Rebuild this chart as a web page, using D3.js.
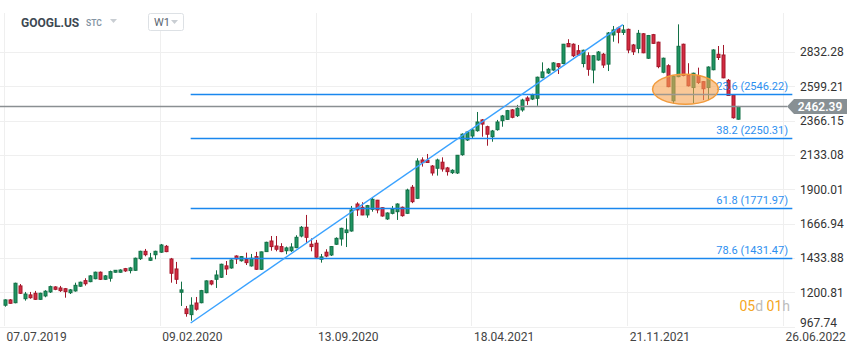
<!DOCTYPE html>
<html>
<head>
<meta charset="utf-8">
<script src="https://cdn.jsdelivr.net/npm/d3@7"></script>
<style>
  body { margin: 0; background: #fff; font-family: Roboto, "Noto Sans", sans-serif; }
  svg { display: block; }
</style>
</head>
<body>
<svg></svg>
<script>
// weekly candles, GOOGL.US (W1)
const firstWeek = new Date(2019, 6, 8);

const open = [1113,1149,1130,1244,1157,1183,1194,1153,1176,1203,
  1237,1230,1225,1198,1210,1242,1280,1273,1293,1337,
  1289,1296,1337,1337,1361,1348,1350,1429,1479,1418,
  1456,1473,1513,1427,1359,1201,1088,1049,1128,1130,
  1198,1278,1289,1303,1380,1366,1447,1415,1425,1380,
  1443,1357,1477,1549,1515,1511,1483,1483,1504,1583,
  1642,1527,1534,1425,1473,1454,1527,1563,1606,1617,
  1800,1778,1726,1764,1826,1775,1699,1737,1748,1778,
  1737,1914,1839,2099,2097,2058,2043,2084,2045,2013,
  2011,2135,2235,2262,2298,2371,2325,2257,2305,2366,
  2375,2439,2400,2439,2520,2513,2518,2658,2690,2710,
  2753,2754,2890,2885,2841,2754,2807,2710,2778,2817,
  2750,2948,2995,2965,2986,2880,2857,2956,2790,2950,
  2899,2695,2739,2501,2665,2885,2673,2591,2671,2631,
  2591,2712,2817,2812,2640,2540,2376];

const high = [1153,1155,1266,1257,1203,1203,1210,1198,1215,1246,
  1242,1244,1230,1223,1266,1273,1296,1318,1341,1342,
  1318,1348,1352,1357,1366,1373,1436,1483,1495,1468,
  1483,1529,1522,1434,1407,1273,1108,1167,1169,1217,
  1282,1284,1350,1395,1413,1425,1452,1447,1470,1461,
  1475,1477,1544,1583,1583,1534,1511,1534,1588,1651,
  1726,1567,1556,1461,1493,1515,1574,1639,1703,1787,
  1812,1812,1794,1843,1828,1778,1744,1787,1805,1783,
  1904,1929,2111,2117,2140,2065,2108,2117,2052,2036,
  2133,2280,2296,2312,2425,2377,2332,2303,2371,2405,
  2439,2445,2473,2515,2532,2549,2665,2762,2724,2764,
  2756,2887,2919,2891,2880,2848,2830,2812,2839,2826,
  2968,3009,3004,3016,2991,2887,2982,2961,2948,2955,
  2902,2794,2749,2674,3020,2889,2756,2692,2726,2635,
  2735,2851,2873,2880,2649,2545,2466];

const low = [1103,1124,1126,1189,1144,1157,1149,1149,1167,1196,
  1215,1203,1164,1189,1205,1237,1246,1269,1289,1284,
  1284,1273,1334,1334,1339,1329,1346,1420,1445,1413,
  1425,1468,1473,1266,1257,1108,1035,1008,1076,1126,
  1194,1248,1230,1298,1318,1361,1393,1409,1386,1375,
  1352,1352,1475,1483,1479,1473,1459,1475,1500,1574,
  1534,1479,1432,1402,1439,1447,1522,1517,1508,1612,
  1719,1724,1707,1748,1737,1714,1692,1730,1692,1714,
  1732,1806,1834,2054,2079,1993,1993,2020,1993,2004,
  2004,2128,2228,2248,2291,2257,2196,2223,2298,2325,
  2371,2382,2391,2427,2473,2506,2467,2654,2683,2705,
  2683,2749,2866,2798,2805,2728,2671,2620,2773,2724,
  2703,2902,2891,2948,2824,2812,2824,2824,2785,2887,
  2722,2688,2593,2484,2661,2667,2598,2484,2615,2506,
  2506,2708,2778,2654,2534,2380,2373];

const close = [1149,1126,1262,1194,1189,1164,1153,1194,1208,1239,
  1221,1212,1205,1217,1248,1269,1259,1312,1337,1289,
  1312,1341,1350,1352,1346,1366,1432,1479,1456,1434,
  1479,1522,1477,1330,1289,1217,1056,1113,1086,1212,
  1278,1257,1318,1391,1359,1420,1427,1443,1402,1432,
  1357,1475,1540,1511,1493,1477,1502,1508,1574,1642,
  1574,1511,1439,1441,1447,1511,1567,1635,1624,1760,
  1760,1726,1789,1832,1760,1719,1739,1764,1800,1721,
  1895,1816,2092,2081,2082,2011,2099,2038,2020,2029,
  2131,2274,2289,2303,2357,2343,2274,2296,2357,2398,
  2434,2389,2450,2506,2502,2540,2661,2697,2715,2758,
  2733,2885,2868,2807,2812,2844,2715,2807,2832,2744,
  2961,2982,2966,2982,2846,2834,2959,2827,2944,2891,
  2733,2790,2597,2667,2871,2673,2603,2688,2625,2583,
  2730,2846,2795,2657,2537,2386,2462.39];

const dateTicks = ["07.07.2019", "09.02.2020", "13.09.2020", "18.04.2021", "21.11.2021", "26.06.2022"];
const priceTicks = [967.74, 1200.81, 1433.88, 1666.94, 1900.01, 2133.08, 2366.15, 2599.21, 2832.28];

const fibLevels = ["23.6", "38.2", "61.8", "78.6"];
const fibValues = [2546.22, 2250.31, 1771.97, 1431.47];
const lastPrice = 2462.39;

// trend line: candle index -> price
const trendWeeks = [37, 123];
const trendValues = [992, 3018];
// highlighted zone (ellipse): week span and price span
const zoneWeeks = [128.9, 142];
const zoneValues = [2477, 2681];

const parseDay = d3.timeParse("%d.%m.%Y");
const weeks = open.map((d, i) => d3.timeWeek.offset(firstWeek, i));
const weekAt = w => new Date(+firstWeek + w * 7 * 864e5);

const svg = d3.select("svg").attr("width", 859).attr("height", 352);

const x = d3.scaleTime()
  .domain([parseDay(dateTicks[0]), parseDay(dateTicks[dateTicks.length - 1])])
  .range([4, 783]);
const y = d3.scaleLinear()
  .domain([priceTicks[0], priceTicks[priceTicks.length - 1]])
  .range([326.6, 52]);

//grid + right price axis
const yAxis = svg.append("g")
  .attr("transform", "translate(795,0)")
  .call(d3.axisRight(y).tickValues(priceTicks).tickSize(-795).tickPadding(5)
    .tickFormat(d => d.toFixed(2)));
yAxis.select(".domain").remove();
yAxis.selectAll("line").attr("stroke", "#efefef").attr("shape-rendering", "crispEdges");
yAxis.selectAll("text").attr("fill", "#333").style("font-size", "12px").style("font-family", "Roboto");
yAxis.selectAll(".tick").filter(d => d === priceTicks[0]).select("text").attr("dy", "-0.05em");

//grid + date axis
const xAxis = svg.append("g")
  .attr("transform", "translate(0,326)")
  .call(d3.axisBottom(x).tickValues(dateTicks.map(parseDay)).tickSize(-313).tickPadding(6)
    .tickFormat(d3.timeFormat("%d.%m.%Y")));
xAxis.select(".domain").remove();
xAxis.selectAll("line").attr("stroke", "#efefef").attr("shape-rendering", "crispEdges");
xAxis.selectAll("text").attr("fill", "#444").attr("text-anchor", "start").attr("x", 2)
  .style("font-size", "12px").style("font-family", "Roboto");

// candles
const candles = svg.append("g");
weeks.forEach((d, i) => {
  const up = close[i] >= open[i];
  const cx = Math.round(x(d)) + 0.5;
  const g = candles.append("g");
  g.append("line")
    .attr("x1", cx).attr("x2", cx)
    .attr("y1", y(high[i])).attr("y2", y(low[i]))
    .attr("stroke", up ? "#137046" : "#a3182b").attr("stroke-width", 1);
  const top = y(Math.max(open[i], close[i]));
  const bot = y(Math.min(open[i], close[i]));
  g.append("rect")
    .attr("x", cx - 1.5).attr("width", 3)
    .attr("y", top).attr("height", Math.max(1, bot - top))
    .attr("fill", up ? "#1f9462" : "#d32a40")
    .attr("stroke", up ? "#137046" : "#a3182b").attr("stroke-width", 1);
});

// fibonacci levels
const fibStart = weekAt(trendWeeks[0]);
const fibEnd = new Date(2022, 6, 9);
fibValues.forEach((v, i) => {
  svg.append("line")
    .attr("x1", x(fibStart)).attr("x2", x(fibEnd))
    .attr("y1", Math.round(y(v)) + 0.5).attr("y2", Math.round(y(v)) + 0.5)
    .attr("stroke", "#1a87ee").attr("stroke-width", 1.5);
  svg.append("text")
    .attr("x", 788).attr("y", y(v) - 4)
    .attr("text-anchor", "end")
    .attr("fill", "#2d8ff0")
    .style("font-size", "11px")
    .text(`${fibLevels[i]} (${v.toFixed(2)})`);
});

// last price line
const py = Math.round(y(lastPrice)) + 0.5;
svg.append("line")
  .attr("x1", 0).attr("x2", 787).attr("y1", py).attr("y2", py)
  .attr("stroke", "#8a8f92").attr("stroke-width", 1.3);

// trend line
svg.append("line")
  .attr("x1", x(weekAt(trendWeeks[0]))).attr("y1", y(trendValues[0]))
  .attr("x2", x(weekAt(trendWeeks[1]))).attr("y2", y(trendValues[1]))
  .attr("stroke", "#3aa2ff").attr("stroke-width", 1.4);

// highlighted zone
const ex0 = x(weekAt(zoneWeeks[0])), ex1 = x(weekAt(zoneWeeks[1]));
const ey0 = y(zoneValues[1]), ey1 = y(zoneValues[0]);
svg.append("ellipse")
  .attr("cx", (ex0 + ex1) / 2).attr("cy", (ey0 + ey1) / 2)
  .attr("rx", (ex1 - ex0) / 2).attr("ry", (ey1 - ey0) / 2)
  .attr("fill", "#f6a352").attr("fill-opacity", 0.6)
  .attr("stroke", "#f29b3c").attr("stroke-width", 1.5);

// price tag
svg.append("path")
  .attr("d", `M787,${py} L794,${py - 7.5} L847,${py - 7.5} L847,${py + 7.5} L794,${py + 7.5} Z`)
  .attr("fill", "#889094");
svg.append("text")
  .attr("x", 820).attr("y", py + 4.5)
  .attr("text-anchor", "middle").attr("fill", "#fff")
  .style("font-size", "12px").style("font-weight", "600")
  .text(lastPrice.toFixed(2));

// countdown
const cd = svg.append("text").attr("x", 790).attr("y", 311)
  .attr("text-anchor", "end").style("font-size", "14px");
cd.append("tspan").attr("fill", "#f5a623").text("05");
cd.append("tspan").attr("fill", "#bdbdbd").text("d ");
cd.append("tspan").attr("fill", "#f5a623").text("01");
cd.append("tspan").attr("fill", "#bdbdbd").text("h");

// header
svg.append("text").attr("x", 21).attr("y", 27)
  .attr("fill", "#3d4852").style("font-size", "12px").style("font-weight", "700")
  .text("GOOGL.US");
svg.append("text").attr("x", 86).attr("y", 26)
  .attr("fill", "#8393a3").style("font-size", "8.5px").style("font-weight", "600")
  .text("STC");
svg.append("path").attr("d", "M110,19 L117,19 L113.5,23 Z").attr("fill", "#c9ced3");
svg.append("rect").attr("x", 148.5).attr("y", 13.5).attr("width", 35).attr("height", 17).attr("rx", 2)
  .attr("fill", "#fff").attr("stroke", "#dde1e5");
svg.append("text").attr("x", 154).attr("y", 26)
  .attr("fill", "#5b6570").style("font-size", "11px")
  .text("W1");
svg.append("path").attr("d", "M171,20 L178,20 L174.5,24 Z").attr("fill", "#c9ced3");
</script>
</body>
</html>
